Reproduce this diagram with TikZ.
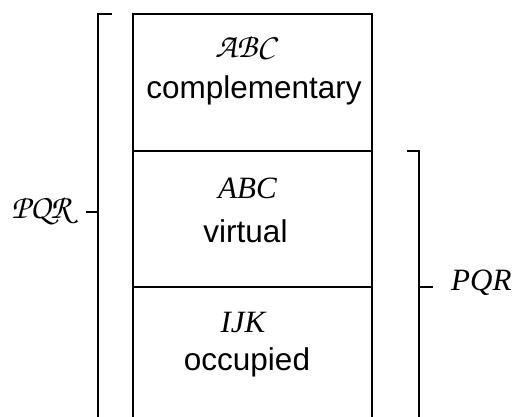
\documentclass[tikz,border=0pt]{standalone}
\usepackage{fontspec}
\setmainfont{Liberation Serif}
\setsansfont{Liberation Sans}
\newcommand\chanc{\fontencoding{T1}\fontfamily{pzc}\fontseries{mb}\fontshape{it}\selectfont}
\tikzset{
  ln/.style={line width=1.5pt, line cap=rect},
  sanslbl/.style={anchor=base, inner sep=0pt, font=\sffamily\fontsize{31.5}{36}\selectfont},
  itlbl/.style={anchor=base, inner sep=0pt, font=\itshape\fontsize{31}{36}\selectfont},
  callbl/.style={anchor=base, inner sep=0pt, font=\chanc\fontsize{34}{40}\selectfont},
}
\begin{document}
\begin{tikzpicture}[x=1pt,y=-1pt]
\useasboundingbox (0,0) rectangle (514,417);
% box
\coordinate (tl) at (133,14);
\coordinate (tr) at (372,14);
\coordinate (bl) at (133,420);
\coordinate (br) at (372,420);
\coordinate (d1l) at (133,151);
\coordinate (d1r) at (372,151);
\coordinate (d2l) at (133,287);
\coordinate (d2r) at (372,287);
\draw[ln] (bl) -- (tl) -- (tr) -- (br);
\draw[ln] (d1l) -- (d1r);
\draw[ln] (d2l) -- (d2r);
% texts
\node[callbl] (c1) at (245,58) {ABC};
\node[sanslbl] (c2) at (254,99) {complementary};
\node[itlbl] (v1) at (247.5,198) {ABC};
\node[sanslbl] (v2) at (245.5,242) {virtual};
\node[itlbl] (o1) at (243,332) {IJK};
\node[sanslbl] (o2) at (247,370) {occupied};
% left bracket
\coordinate (lt) at (112,14);
\coordinate (ltc) at (98,14);
\coordinate (lb) at (98,420);
\coordinate (lm) at (98,212);
\coordinate (lmt) at (86,212);
\draw[ln, line cap=butt] (lt) -- (ltc) -- (lb);
\draw[ln, line cap=butt] (lm) -- (lmt);
\node[callbl] (lp) at (41,218) {PQR};
% right bracket
\coordinate (rt) at (407,151);
\coordinate (rtc) at (419,151);
\coordinate (rb) at (419,420);
\coordinate (rm) at (419,287);
\coordinate (rmt) at (433,287);
\draw[ln, line cap=butt] (rt) -- (rtc) -- (rb);
\draw[ln, line cap=butt] (rm) -- (rmt);
\node[itlbl, anchor=base west] (rp) at (451,290) {PQR};
\end{tikzpicture}
\end{document}
